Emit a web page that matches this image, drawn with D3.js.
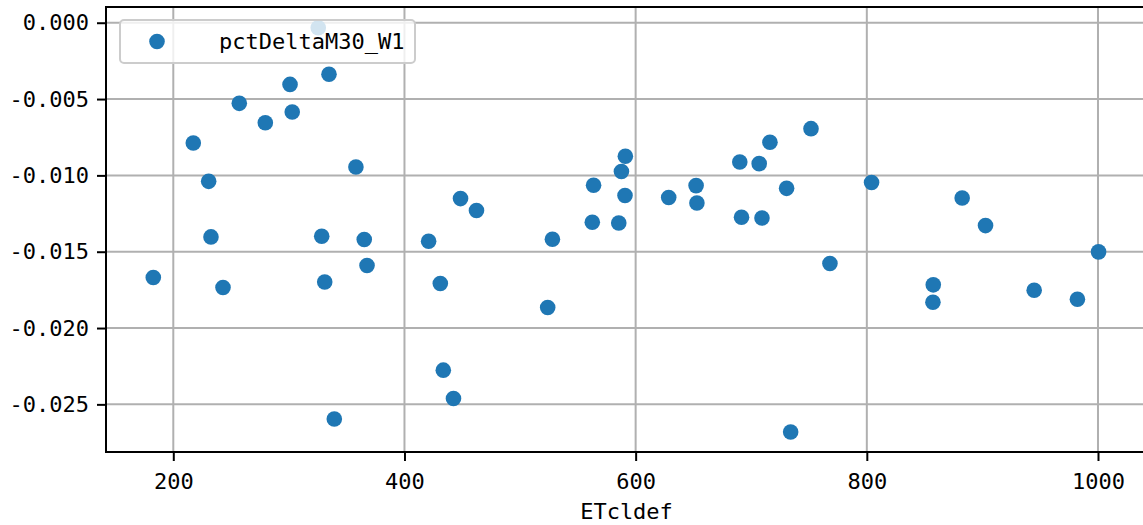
<!DOCTYPE html>
<html>
<head>
<meta charset="utf-8">
<script src="https://cdn.jsdelivr.net/npm/d3@7"></script>
<style>
  body { margin: 0; background: #fff; }
  svg { display: block; }
  text { font-family: "DejaVu Sans Mono", "Liberation Mono", monospace; fill: #000; }
</style>
</head>
<body>
<svg id="chart" width="1143" height="525"></svg>
<script>
// ETcldef values (x)
const etcldef = [
  182.7, 217.3, 230.6, 232.6, 243.0, 257.1, 279.6, 301.0, 302.9, 325.4,
  328.4, 331.0, 334.7, 339.3, 358.0, 365.2, 367.6, 420.9, 431.0, 433.6,
  442.4, 448.5, 462.3, 523.9, 528.0, 562.5, 563.6, 585.4, 587.7, 591.1,
  590.8, 628.6, 652.3, 653.0, 690.1, 691.6, 706.9, 709.3, 716.2, 730.6,
  734.1, 751.7, 768.1, 804.1, 857.5, 857.2, 882.5, 902.7, 944.8, 982.2,
  1000.5
];
// pctDeltaM30_W1 values (y)
const pctDelta = [
  -0.01669, -0.00788, -0.01039, -0.01403, -0.01734, -0.00528, -0.00655, -0.00404, -0.00585, -0.00033,
  -0.01399, -0.01698, -0.00338, -0.02596, -0.00945, -0.01420, -0.01590, -0.01431, -0.01708, -0.02276,
  -0.02462, -0.01152, -0.01230, -0.01865, -0.01418, -0.01307, -0.01065, -0.01312, -0.00975, -0.00875,
  -0.01132, -0.01145, -0.01067, -0.01181, -0.00912, -0.01274, -0.00923, -0.01279, -0.00783, -0.01085,
  -0.02681, -0.00694, -0.01577, -0.01047, -0.01717, -0.01831, -0.01148, -0.01329, -0.01752, -0.01811,
  -0.01501
];
const xTicks = [200, 400, 600, 800, 1000];
const yTicks = [0, -0.005, -0.010, -0.015, -0.020, -0.025];
const seriesName = 'pctDeltaM30_W1';
const xLabel = 'ETcldef';

const data = etcldef.map((x, i) => ({ x, y: pctDelta[i] }));

const margin = { top: 7, right: -4, bottom: 73, left: 106 };
const width = 1143, height = 525;
const svg = d3.select('#chart');

// plot is cut off on the right, like the original figure
const x = d3.scaleLinear()
  .domain([141.78, 1042.4])
  .range([margin.left, width - margin.right]);
const y = d3.scaleLinear()
  .domain([-0.02812, 0.00103])
  .range([height - margin.bottom, margin.top]);

const fontSize = 22;
const gridColor = '#b0b0b0';

// grid
const grid = svg.append('g');
grid.selectAll('.gx').data(xTicks).join('line')
  .attr('x1', d => x(d)).attr('x2', d => x(d))
  .attr('y1', y.range()[1]).attr('y2', y.range()[0])
  .attr('stroke', gridColor).attr('stroke-width', 2);
grid.selectAll('.gy').data(yTicks).join('line')
  .attr('y1', d => y(d)).attr('y2', d => y(d))
  .attr('x1', x.range()[0]).attr('x2', x.range()[1])
  .attr('stroke', gridColor).attr('stroke-width', 2);

// points
svg.append('g')
  .selectAll('circle')
  .data(data)
  .join('circle')
    .attr('cx', d => x(d.x))
    .attr('cy', d => y(d.y))
    .attr('r', 7.8)
    .attr('fill', '#1f77b4');

// axes
const xAxis = d3.axisBottom(x).tickValues(xTicks).tickSize(9).tickPadding(8)
  .tickFormat(d3.format('d'));
const yAxis = d3.axisLeft(y).tickValues(yTicks).tickSize(9).tickPadding(8)
  .tickFormat(d => d === 0 ? '0.000' : d3.format('.3f')(d).replace('−', '-'));

const gx = svg.append('g')
  .attr('transform', `translate(0,${height - margin.bottom})`)
  .call(xAxis);
const gy = svg.append('g')
  .attr('transform', `translate(${margin.left},0)`)
  .call(yAxis);

[gx, gy].forEach(g => {
  g.select('.domain').remove();
  g.selectAll('.tick line').attr('stroke', '#000').attr('stroke-width', 2);
  g.selectAll('.tick text').attr('font-size', fontSize)
    .style('font-family', '"DejaVu Sans Mono", monospace');
});
gx.selectAll('.tick text').attr('dy', '0.9em');

// spines
svg.append('rect')
  .attr('x', x.range()[0]).attr('y', y.range()[1])
  .attr('width', x.range()[1] - x.range()[0])
  .attr('height', y.range()[0] - y.range()[1])
  .attr('fill', 'none').attr('stroke', '#000').attr('stroke-width', 2);

// x label
svg.append('text')
  .attr('x', (x.range()[0] + x.range()[1]) / 2)
  .attr('y', 519)
  .attr('text-anchor', 'middle')
  .attr('font-size', fontSize)
  .text(xLabel);

// legend
const legend = svg.append('g');
legend.append('rect')
  .attr('x', 120).attr('y', 20)
  .attr('width', 295).attr('height', 43)
  .attr('rx', 4)
  .attr('fill', 'rgba(255,255,255,0.8)')
  .attr('stroke', '#cccccc').attr('stroke-width', 2);
legend.append('circle')
  .attr('cx', 157).attr('cy', 41.5).attr('r', 7.8)
  .attr('fill', '#1f77b4');
legend.append('text')
  .attr('x', 219).attr('y', 49)
  .attr('font-size', fontSize)
  .text(seriesName);
</script>
</body>
</html>
